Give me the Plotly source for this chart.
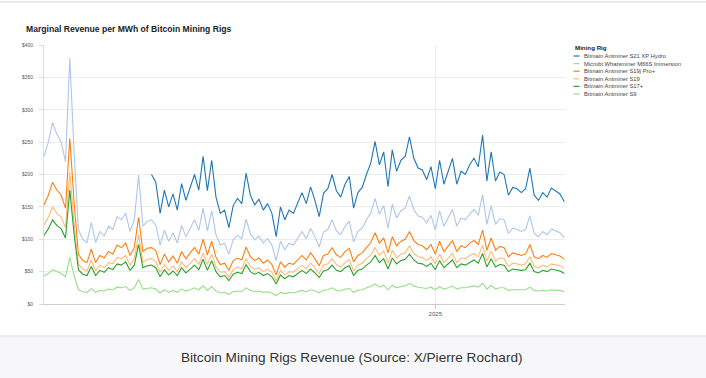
import pandas as pd
import plotly.graph_objects as go

# Dates: every 3 days from 2024-04-03 to 2025-04-01
dates = pd.date_range("2024-04-03", periods=122, freq="3D")

rig_names = [
    "Bitmain Antminer S21 XP Hydro",
    "Microbt Whatsminer M66S Immersion",
    "Bitmain Antminer S19j Pro+",
    "Bitmain Antminer S19",
    "Bitmain Antminer S17+",
    "Bitmain Antminer S9",
]
rig_colors = ["#1f77b4", "#aec7e8", "#ff7f0e", "#ffbb78", "#2ca02c", "#98df8a"]

s21_xp_hydro = [None] * 25 + [
    200, 188, 140, 176, 150, 170, 145, 186, 160, 180, 200, 176, 228, 175, 222, 165, 140, 145, 118, 152,
    163, 155, 202, 168, 153, 162, 145, 155, 140, 104, 150, 130, 145, 140, 155, 172, 155, 181, 160, 135,
    171, 178, 200, 175, 165, 185, 197, 148, 172, 180, 200, 218, 251, 215, 235, 181, 238, 205, 222, 228,
    258, 225, 210, 207, 192, 212, 178, 222, 185, 205, 225, 185, 205, 200, 215, 225, 212, 261, 190, 235,
    190, 204, 200, 168, 180, 178, 172, 178, 210, 168, 160, 172, 165, 179, 175, 170, 158,
]

m66s_immersion = [
    228, 250, 280, 262, 250, 220, 380, 234, 115, 100, 95, 126, 95, 112, 105, 120, 115, 135, 130, 140,
    112, 130, 199, 120, 128, 130, 122, 91, 114, 97, 110, 94, 121, 104, 117, 130, 114, 148, 113, 144,
    107, 91, 94, 77, 99, 106, 101, 131, 109, 99, 105, 94, 101, 91, 67, 97, 84, 94, 91, 101,
    112, 101, 117, 104, 88, 111, 115, 130, 113, 107, 120, 128, 96, 112, 117, 130, 141, 163, 139, 152,
    117, 154, 133, 144, 148, 167, 146, 136, 134, 125, 137, 115, 144, 120, 133, 146, 120, 133, 130, 139,
    146, 137, 169, 123, 152, 123, 132, 130, 109, 117, 115, 112, 115, 136, 109, 104, 112, 107, 116, 113,
    110, 102,
]

s19j_pro_plus = [
    153, 168, 188, 176, 168, 148, 256, 157, 77, 67, 64, 85, 64, 75, 71, 81, 77, 91, 87, 94,
    75, 87, 134, 81, 86, 87, 82, 61, 77, 65, 74, 63, 81, 70, 79, 87, 77, 100, 76, 97,
    72, 61, 63, 52, 67, 71, 68, 88, 73, 67, 71, 63, 68, 61, 45, 65, 57, 63, 61, 68,
    75, 68, 79, 70, 59, 75, 77, 87, 76, 72, 81, 86, 65, 75, 79, 87, 95, 110, 94, 102,
    79, 104, 90, 97, 100, 112, 98, 92, 90, 84, 92, 77, 97, 81, 90, 98, 81, 90, 87, 94,
    98, 92, 114, 83, 102, 83, 89, 87, 73, 79, 77, 75, 77, 92, 73, 70, 75, 72, 78, 76,
    74, 69,
]

s19 = [
    122, 134, 150, 140, 134, 118, 204, 125, 62, 54, 51, 68, 51, 60, 56, 64, 62, 72, 70, 75,
    60, 70, 107, 64, 69, 70, 65, 49, 61, 52, 59, 50, 65, 56, 63, 70, 61, 79, 61, 77,
    57, 49, 50, 41, 53, 57, 54, 70, 58, 53, 56, 50, 54, 49, 36, 52, 45, 50, 49, 54,
    60, 54, 63, 56, 47, 60, 62, 70, 61, 57, 64, 69, 51, 60, 63, 70, 76, 87, 75, 82,
    63, 83, 71, 77, 79, 90, 78, 73, 72, 67, 73, 62, 77, 64, 71, 78, 64, 71, 70, 75,
    78, 73, 91, 66, 82, 66, 71, 70, 58, 63, 62, 60, 62, 73, 58, 56, 60, 57, 62, 61,
    59, 55,
]

s17_plus = [
    106, 116, 130, 121, 116, 102, 176, 108, 53, 46, 44, 58, 44, 52, 49, 56, 53, 62, 60, 65,
    52, 60, 92, 56, 59, 60, 56, 42, 53, 45, 51, 44, 56, 48, 54, 60, 53, 69, 52, 67,
    50, 42, 44, 36, 46, 49, 47, 61, 50, 46, 49, 44, 47, 42, 31, 45, 39, 44, 42, 47,
    52, 47, 54, 48, 41, 51, 53, 60, 52, 50, 56, 59, 44, 52, 54, 60, 65, 75, 64, 70,
    54, 71, 62, 67, 69, 77, 68, 63, 62, 58, 63, 53, 67, 56, 62, 68, 56, 62, 60, 64,
    68, 63, 78, 57, 70, 57, 61, 60, 50, 54, 53, 52, 53, 63, 50, 48, 52, 50, 54, 52,
    51, 47,
]

s9 = [
    43, 47, 53, 50, 47, 42, 72, 44, 22, 19, 18, 24, 18, 21, 20, 23, 22, 26, 25, 27,
    21, 25, 38, 23, 24, 25, 23, 17, 22, 18, 21, 18, 23, 20, 22, 25, 22, 28, 21, 27,
    20, 17, 18, 15, 19, 20, 19, 25, 21, 19, 20, 18, 19, 17, 13, 18, 16, 18, 17, 19,
    21, 19, 22, 20, 17, 21, 22, 25, 21, 20, 23, 24, 18, 21, 22, 25, 27, 31, 26, 29,
    22, 29, 25, 27, 28, 32, 28, 26, 25, 24, 26, 22, 27, 23, 25, 28, 23, 25, 25, 26,
    28, 26, 32, 23, 29, 23, 25, 25, 21, 22, 22, 21, 22, 26, 21, 20, 21, 20, 22, 21,
    21, 19,
]

y_tick_vals = [0, 50, 100, 150, 200, 250, 300, 350, 400]
y_tick_text = ["$0", "$50", "$100", "$150", "$200", "$250", "$300", "$350", "$400"]
x_tick_vals = ["2025-01-01"]
x_tick_text = ["2025"]

chart_title = "Marginal Revenue per MWh of Bitcoin Mining Rigs"
legend_title = "Mining Rig"
caption = "Bitcoin Mining Rigs Revenue (Source: X/Pierre Rochard)"

series = [s21_xp_hydro, m66s_immersion, s19j_pro_plus, s19, s17_plus, s9]

fig = go.Figure()
for name, color, vals in zip(rig_names, rig_colors, series):
    fig.add_trace(go.Scatter(
        x=dates, y=vals, mode="lines", name=name,
        line=dict(color=color, width=1.1),
    ))

# geometry helpers (pixel -> paper)
L, R, T, B = 44, 565, 45, 304
W, H = R - L, B - T


def px(xp):
    return (xp - L) / W


def py(yp):
    return (B - yp) / H


FONT = "Liberation Sans, Arial, sans-serif"

shapes = [
    # top border line
    dict(type="line", xref="paper", yref="paper", x0=px(0), x1=px(706), y0=py(2), y1=py(2),
         line=dict(color="#e2e2ea", width=1.5), layer="below"),
    # caption band
    dict(type="rect", xref="paper", yref="paper", x0=px(0), x1=px(706), y0=py(336), y1=py(379),
         fillcolor="#f7f7f9", line=dict(width=0), layer="below"),
    dict(type="line", xref="paper", yref="paper", x0=px(0), x1=px(706), y0=py(336), y1=py(336),
         line=dict(color="#e6e6ec", width=1.5), layer="below"),
]

annotations = [
    dict(text="<b>" + chart_title + "</b>", xref="paper", yref="paper", x=px(24), y=py(29),
         xanchor="left", yanchor="middle", showarrow=False,
         font=dict(size=8.6, color="#222222", family=FONT)),
    dict(text=caption, xref="paper", yref="paper", x=px(352), y=py(357.5),
         xanchor="center", yanchor="middle", showarrow=False,
         font=dict(size=13.6, color="#333333", family=FONT)),
    dict(text="<b>" + legend_title + "</b>", xref="paper", yref="paper", x=px(572.5), y=py(47.5),
         xanchor="left", yanchor="middle", showarrow=False,
         font=dict(size=6.2, color="#222222", family=FONT)),
]

legend_y = [56, 63.6, 71.2, 78.8, 86.4, 94]
for name, color, ly in zip(rig_names, rig_colors, legend_y):
    shapes.append(dict(type="line", xref="paper", yref="paper", x0=px(573.5), x1=px(579.5),
                       y0=py(ly), y1=py(ly), line=dict(color=color, width=1.2)))
    annotations.append(dict(text=name, xref="paper", yref="paper", x=px(581.5), y=py(ly),
                            xanchor="left", yanchor="middle", showarrow=False,
                            font=dict(size=5.8, color="#444444", family=FONT)))

fig.update_layout(
    width=706, height=378,
    margin=dict(l=L, r=706 - R, t=T, b=378 - B, autoexpand=False),
    paper_bgcolor="white", plot_bgcolor="white",
    showlegend=False,
    font=dict(family=FONT, color="#555555"),
    shapes=shapes, annotations=annotations,
    xaxis=dict(
        type="date", range=["2024-04-03", "2025-04-01 12:00"],
        tickvals=x_tick_vals, ticktext=x_tick_text,
        ticks="outside", ticklen=4, tickcolor="#cccccc",
        showgrid=True, gridcolor="#ececec", gridwidth=1,
        showline=True, linecolor="#cccccc", linewidth=1,
        tickfont=dict(size=6, color="#555555"), zeroline=False,
    ),
    yaxis=dict(
        range=[0, 400], tickvals=y_tick_vals, ticktext=y_tick_text,
        ticks="outside", ticklen=4, tickcolor="#dddddd",
        showgrid=True, gridcolor="#ececec", gridwidth=1,
        showline=True, linecolor="#dddddd", linewidth=1,
        tickfont=dict(size=5, color="#555555"), zeroline=False,
        ticklabelstandoff=5,
    ),
)

fig.write_html(
    "out.html",
    config={"displayModeBar": False},
    post_script="document.body.style.margin='0';document.body.style.overflow='hidden';",
)
